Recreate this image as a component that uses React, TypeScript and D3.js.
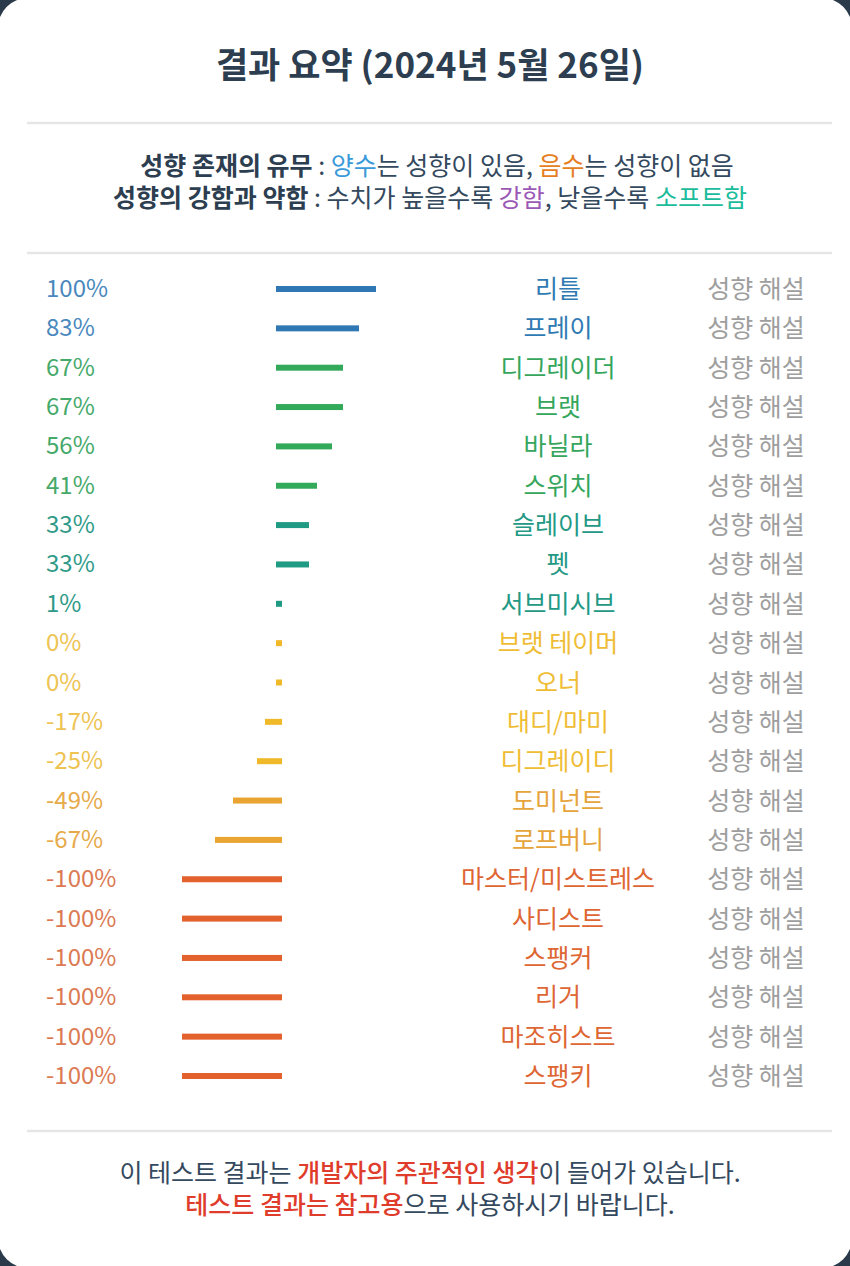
import React from "react";
import * as d3 from "d3";

const names = ["리틀", "프레이", "디그레이더", "브랫", "바닐라", "스위치", "슬레이브", "펫", "서브미시브", "브랫 테이머", "오너", "대디/마미", "디그레이디", "도미넌트", "로프버니", "마스터/미스트레스", "사디스트", "스팽커", "리거", "마조히스트", "스팽키"];
const values = [100, 83, 67, 67, 56, 41, 33, 33, 1, 0, 0, -17, -25, -49, -67, -100, -100, -100, -100, -100, -100];
const linkLabel = "성향 해설";
const title = "결과 요약 (2024년 5월 26일)";

const W = 850;
const H = 1266;
const FONT = "'Noto Sans CJK KR', 'Noto Sans', sans-serif";

function group(v: number) {
  if (v >= 80) return { bar: "#2f78b3", label: "#4a88bd", name: "#2f7ab2" };
  if (v >= 40) return { bar: "#33a95a", label: "#45a96a", name: "#35a65c" };
  if (v > 0) return { bar: "#1f9a83", label: "#2f9a88", name: "#239985" };
  if (v > -30) return { bar: "#f0b92a", label: "#eec352", name: "#efbd35" };
  if (v > -70) return { bar: "#e9a431", label: "#e7aa4a", name: "#e5a43c" };
  return { bar: "#e2612c", label: "#db7a52", name: "#de6633" };
}

export default function App() {
  const y = d3.scalePoint<number>().domain(d3.range(names.length)).range([289, 1076]);
  const len = d3.scaleLinear().domain([0, 100]).range([0, 100]);
  const posOrigin = 276;
  const negOrigin = 282;
  const barH = 6;
  const minW = 6;

  return (
    <svg width={W} height={H} style={{ position: "absolute", left: 0, top: 0 }} fontFamily={FONT}>
      <rect x={0} y={0} width={W} height={H} fill="#2b3a4a" />
      <rect x={-2} y={-2} width={W + 4} height={H + 4} rx={30} fill="#ffffff" />

      <text x={430} y={78} textAnchor="middle" fontSize={35} fontWeight={700} fill="#2c3e50">{title}</text>

      <line x1={27} x2={832} y1={123} y2={123} stroke="#e6e6e6" strokeWidth={2.5} />

      <text x={437} y={175} textAnchor="middle" fontSize={25} fill="#34495e">
        <tspan fontWeight={700} fill="#2c3e50">성향 존재의 유무</tspan>
        <tspan> : </tspan>
        <tspan fill="#3a9ad9">양수</tspan>
        <tspan>는 성향이 있음, </tspan>
        <tspan fill="#e67e22">음수</tspan>
        <tspan>는 성향이 없음</tspan>
      </text>
      <text x={430} y={207} textAnchor="middle" fontSize={25} fill="#34495e">
        <tspan fontWeight={700} fill="#2c3e50">성향의 강함과 약함</tspan>
        <tspan> : 수치가 높을수록 </tspan>
        <tspan fill="#9b59b6">강함</tspan>
        <tspan>, 낮을수록 </tspan>
        <tspan fill="#1abc9c">소프트함</tspan>
      </text>

      <line x1={27} x2={832} y1={253} y2={253} stroke="#e6e6e6" strokeWidth={2.5} />

      {values.map((v, i) => {
        const c = group(v);
        const cy = y(i) as number;
        const w = Math.max(minW, len(Math.abs(v)));
        const x0 = v >= 0 ? posOrigin : negOrigin - w;
        return (
          <g key={i}>
            <text x={46} y={cy + 8} fontSize={24} fill={c.label}>{`${v}%`}</text>
            <rect x={x0} y={cy - barH / 2} width={w} height={barH} fill={c.bar} />
            <text x={558} y={cy + 9} textAnchor="middle" fontSize={25} fill={c.name}>{names[i]}</text>
            <text x={756} y={cy + 9} textAnchor="middle" fontSize={25} fill="#9e9e9e">{linkLabel}</text>
          </g>
        );
      })}

      <line x1={27} x2={832} y1={1131} y2={1131} stroke="#e6e6e6" strokeWidth={2.5} />

      <text x={430} y={1182} textAnchor="middle" fontSize={25} fill="#34495e">
        <tspan>이 테스트 결과는 </tspan>
        <tspan fill="#e03c2c" fontWeight={500}>개발자의 주관적인 생각</tspan>
        <tspan>이 들어가 있습니다.</tspan>
      </text>
      <text x={430} y={1214} textAnchor="middle" fontSize={25} fill="#34495e">
        <tspan fill="#e03c2c" fontWeight={500}>테스트 결과는 참고용</tspan>
        <tspan>으로 사용하시기 바랍니다.</tspan>
      </text>
    </svg>
  );
}
